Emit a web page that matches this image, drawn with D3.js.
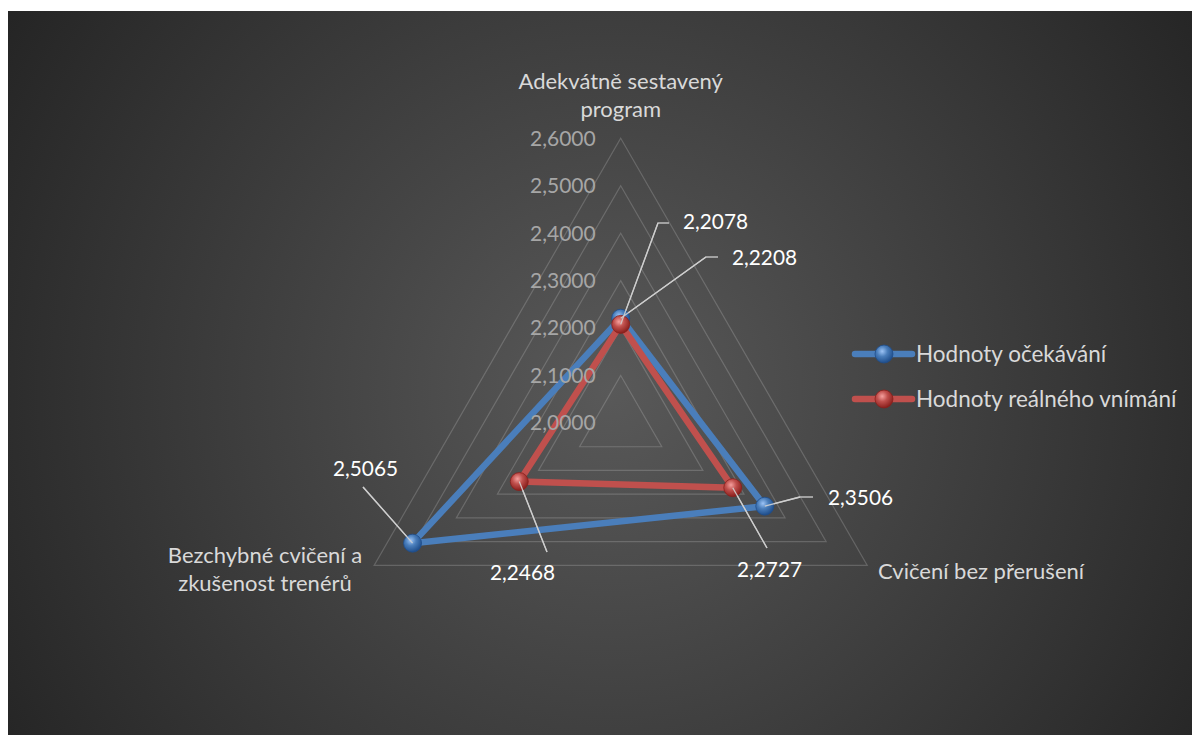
<!DOCTYPE html>
<html>
<head>
<meta charset="utf-8">
<script src="https://cdn.jsdelivr.net/npm/d3@7"></script>
<style>
  html, body { margin: 0; padding: 0; background: #fff; }
  text { font-family: Lato, "Open Sans", sans-serif; }
</style>
</head>
<body>
<main></main>
<script>
// categories in clockwise order starting at the top
const categories = [
    ["Adekvátně sestavený", "program"],
    ["Cvičení bez přerušení"],
    ["Bezchybné cvičení a", "zkušenost trenérů"]
];
const seriesNames = ["Hodnoty očekávání", "Hodnoty reálného vnímání"];
const expected = [2.2208, 2.3506, 2.5065];
const perceived = [2.2078, 2.2727, 2.2468];
const ticks = [2.0, 2.1, 2.2, 2.3, 2.4, 2.5, 2.6];

const width = 1192, height = 735;
const cx = 620.7, cy = 423;
const fmt = v => d3.format(".4f")(v).replace(".", ",");

const svg = d3.select("main").append("svg").attr("width", width).attr("height", height)
    .style("display", "block");
const defs = svg.append("defs");

const bg = defs.append("radialGradient").attr("id", "bg")
    .attr("gradientUnits", "userSpaceOnUse")
    .attr("cx", 610).attr("cy", 390).attr("r", 720);
bg.append("stop").attr("offset", 0).attr("stop-color", "#595959");
bg.append("stop").attr("offset", 1).attr("stop-color", "#242424");

svg.append("rect").attr("x", 8).attr("y", 11).attr("width", width - 8).attr("height", height - 11)
    .attr("fill", "url(#bg)");

const colors = ["#4a7ebb", "#c0504d"];
const lights = ["#9cc3f5", "#f5a09e"];
const darks = ["#1f4e8c", "#8a1f1c"];
colors.forEach((c, i) => {
    const g = defs.append("radialGradient").attr("id", "ball" + i)
        .attr("cx", "40%").attr("cy", "35%").attr("r", "65%");
    g.append("stop").attr("offset", 0).attr("stop-color", lights[i]);
    g.append("stop").attr("offset", 0.45).attr("stop-color", c);
    g.append("stop").attr("offset", 1).attr("stop-color", darks[i]);
});

const r = d3.scaleLinear().domain([2.0, 2.6]).range([0, 284.7]);
const angle = i => -Math.PI / 2 + i * 2 * Math.PI / categories.length;
const pt = (v, i) => [cx + r(v) * Math.cos(angle(i)), cy + r(v) * Math.sin(angle(i))];

// grid rings
svg.append("g").selectAll("path").data(ticks.slice(1)).join("path")
    .attr("d", t => d3.line()(categories.map((_, i) => pt(t, i))) + "Z")
    .attr("fill", "none").attr("stroke", "#d9d9d9").attr("stroke-opacity", 0.22).attr("stroke-width", 1.2);

// category labels
const catPos = [
    { x: cx, y: 81, anchor: "middle" },
    { x: 878, y: 571, anchor: "start" },
    { x: 265, y: 555, anchor: "middle" }
];
categories.forEach((lines, i) => {
    const t = svg.append("text").attr("fill", "#d9d9d9").attr("font-size", 22)
        .attr("text-anchor", catPos[i].anchor);
    lines.forEach((l, j) => t.append("tspan").attr("x", catPos[i].x)
        .attr("y", catPos[i].y + j * 28.5).attr("dy", "0.35em").text(l));
});

// series
const line = d3.line().curve(d3.curveLinearClosed);
const series = [expected, perceived];
series.forEach((vals, s) => {
    svg.append("path").attr("d", line(vals.map((v, i) => pt(v, i))))
        .attr("fill", "none").attr("stroke", colors[s]).attr("stroke-width", 6.5)
        .attr("stroke-linejoin", "round");
});

// tick labels (drawn over the series lines)
svg.append("g").selectAll("text").data(ticks).join("text")
    .attr("x", cx - 25).attr("y", t => cy - r(t))
    .attr("dy", "0.35em").attr("text-anchor", "end")
    .attr("fill", "#a6a6a6").attr("font-size", 21)
    .text(fmt);

// data label leaders: [series, category, elbow x, elbow y, end x, end y, text x, text y]
const labelLayout = [
    [1, 0, 658, 223, 669, 223, 683, 222],
    [0, 0, 706, 257, 718, 257, 732, 258],
    [0, 1, 800, 497, 813, 497, 828, 498],
    [1, 1, 767, 548, 767, 548, 737, 570],
    [0, 2, 363, 487, 363, 487, 333, 469],
    [1, 2, 547, 552, 547, 552, 490, 573]
];
const lg = svg.append("g");
labelLayout.forEach(([s, i, ex, ey, fx, fy, tx, ty]) => {
    const p = pt(series[s][i], i);
    lg.append("path").attr("d", d3.line()([p, [ex, ey], [fx, fy]]))
        .attr("fill", "none").attr("stroke", "#bfbfbf").attr("stroke-width", 1.3);
    lg.append("text").attr("x", tx).attr("y", ty).attr("dy", "0.35em")
        .attr("fill", "#ffffff").attr("font-size", 20.8).text(fmt(series[s][i]));
});

// markers drawn on top
series.forEach((vals, s) => {
    svg.append("g").selectAll("circle").data(vals).join("circle")
        .attr("cx", (v, i) => pt(v, i)[0]).attr("cy", (v, i) => pt(v, i)[1])
        .attr("r", 9).attr("fill", `url(#ball${s})`)
        .attr("stroke", darks[s]).attr("stroke-width", 0.8);
});
// leader starts stay visible over the markers
labelLayout.forEach(([s, i, ex, ey]) => {
    const p = pt(series[s][i], i);
    svg.append("line").attr("x1", p[0]).attr("y1", p[1]).attr("x2", ex).attr("y2", ey)
        .attr("stroke", "#d0d0d0").attr("stroke-width", 1.3).attr("stroke-opacity", 0.9);
});

// legend
const legend = svg.append("g");
seriesNames.forEach((name, s) => {
    const y = 354 + s * 45;
    legend.append("line").attr("x1", 855).attr("x2", 912).attr("y1", y).attr("y2", y)
        .attr("stroke", colors[s]).attr("stroke-width", 6.5).attr("stroke-linecap", "round");
    legend.append("circle").attr("cx", 884).attr("cy", y).attr("r", 9)
        .attr("fill", `url(#ball${s})`).attr("stroke", darks[s]).attr("stroke-width", 0.8);
    legend.append("text").attr("x", 916).attr("y", y).attr("dy", "0.35em")
        .attr("fill", "#d9d9d9").attr("font-size", 22.5).text(name);
});
</script>
</body>
</html>
